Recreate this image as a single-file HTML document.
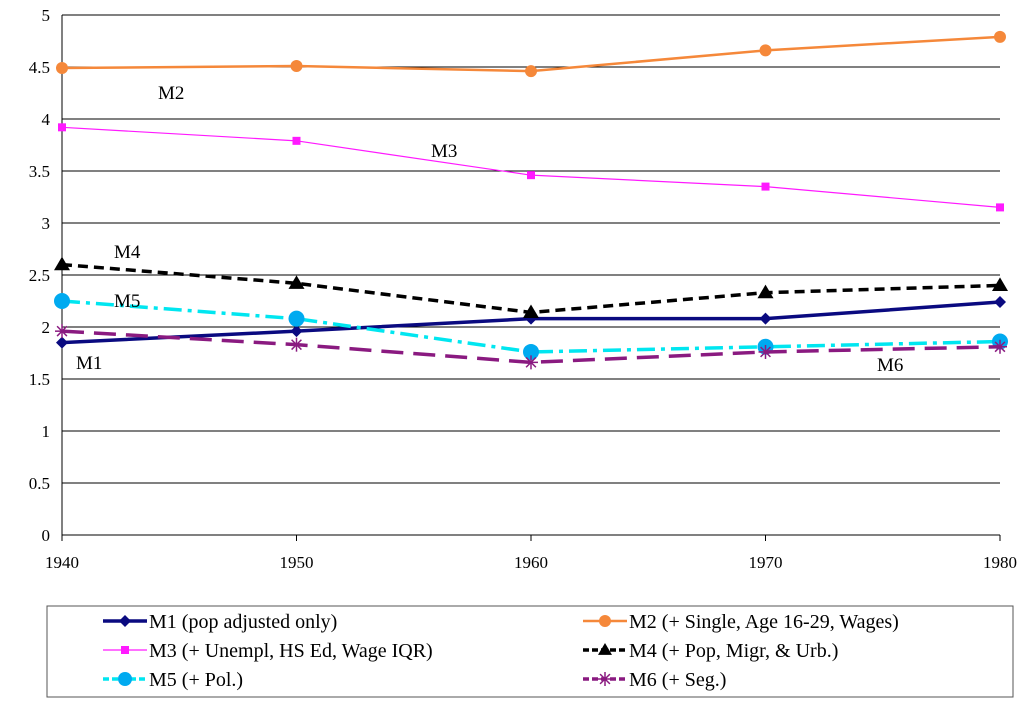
<!DOCTYPE html>
<html><head><meta charset="utf-8"><style>
body{margin:0;background:#fff;width:1024px;height:704px;overflow:hidden}
svg text{font-family:"Liberation Serif",serif}
</style></head><body>
<svg id="c" width="1024" height="704"></svg>
<script>
const years=[1940,1950,1960,1970,1980];
const m1=[1.85,1.96,2.08,2.08,2.24];
const m2=[4.49,4.51,4.46,4.66,4.79];
const m3=[3.92,3.79,3.46,3.35,3.15];
const m4=[2.60,2.42,2.14,2.33,2.40];
const m5=[2.25,2.08,1.76,1.81,1.86];
const m6=[1.96,1.83,1.66,1.76,1.81];
const yTicks=[0,0.5,1,1.5,2,2.5,3,3.5,4,4.5,5];
const names=["M1 (pop adjusted only)","M2 (+ Single, Age 16-29, Wages)","M3 (+ Unempl, HS Ed, Wage IQR)","M4 (+ Pop, Migr, & Urb.)","M5 (+ Pol.)","M6 (+ Seg.)"];
const NS="http://www.w3.org/2000/svg";
const svg=document.getElementById('c');
const X=v=>62+(v-1940)/40*938;
const Y=v=>535-v*104;
function mk(t,a,p){const e=document.createElementNS(NS,t);for(const k in a)e.setAttribute(k,a[k]);(p||svg).appendChild(e);return e;}
yTicks.forEach(t=>{
 const g=mk('line',{x1:62,x2:1000,y1:Y(t),y2:Y(t),stroke:'#000','stroke-width':1});
 
 
 const l=mk('text',{x:50,y:Y(t)+6,'text-anchor':'end','font-size':17});l.textContent=t;
 
 
});
mk('line',{x1:62,x2:62,y1:15,y2:535,stroke:'#000'});
years.forEach(y=>{
 mk('line',{x1:X(y),x2:X(y),y1:535,y2:541,stroke:'#000'});
 const l=mk('text',{x:X(y),y:568,'text-anchor':'middle','font-size':17});l.textContent=y;
 
 
});
const series=[
 {d:m1,c:'#0a0a80',w:3.5,dash:'',m:'diamond',s:6},
 {d:m2,c:'#f5883a',w:2.5,dash:'',m:'circle',s:6},
 {d:m3,c:'#ff1aff',w:1.2,dash:'',m:'square',s:4},
 {d:m4,c:'#000',w:3.5,dash:'10,6',m:'tri',s:8},
 {d:m5,c:'#00e6f0',w:3.5,dash:'18,6,4,6',m:'circle',s:8,mc:'#00aaf0'},
 {d:m6,c:'#8a1a80',w:3.5,dash:'22,10',m:'star',s:7}
];
function marker(p,m,x,y,s,c){
 if(m==='diamond')return mk('polygon',{points:`${x},${y-s} ${x+s},${y} ${x},${y+s} ${x-s},${y}`,fill:c},p);
 if(m==='circle')return mk('circle',{cx:x,cy:y,r:s,fill:c},p);
 if(m==='square')return mk('rect',{x:x-s,y:y-s,width:2*s,height:2*s,fill:c},p);
 if(m==='tri')return mk('polygon',{points:`${x},${y-s} ${x+s},${y+s*0.7} ${x-s},${y+s*0.7}`,fill:c},p);
 const g=mk('g',{stroke:c,'stroke-width':1.5},p);
 mk('line',{x1:x-s,y1:y,x2:x+s,y2:y},g);mk('line',{x1:x,y1:y-s,x2:x,y2:y+s},g);
 mk('line',{x1:x-s*.7,y1:y-s*.7,x2:x+s*.7,y2:y+s*.7},g);mk('line',{x1:x-s*.7,y1:y+s*.7,x2:x+s*.7,y2:y-s*.7},g);
 return g;
}
series.forEach((s,i)=>{
 const g=mk('g',{});
 
 
 mk('polyline',{points:s.d.map((v,j)=>X(years[j])+','+Y(v)).join(' '),fill:'none',stroke:s.c,'stroke-width':s.w,'stroke-dasharray':s.dash},g);
 s.d.forEach((v,j)=>{const mm=marker(g,s.m,X(years[j]),Y(v),s.s,s.mc||s.c);
  
  });
});
[['M2',158,99],['M3',431,157],['M4',114,258],['M5',114,307],['M1',76,369],['M6',877,371]].forEach(a=>{
 const t=mk('text',{x:a[1],y:a[2],'font-size':19});t.textContent=a[0];
 
 
});
const lg=mk('g',{});


mk('rect',{x:47,y:606,width:966,height:91,fill:'#fff',stroke:'#555','stroke-width':1},lg);
series.forEach((s,i)=>{
 const col=i%2,row=Math.floor(i/2);
 const x0=col?583:103,y0=621+row*29;
 const e=mk('g',{},lg);
 
 
 mk('line',{x1:x0,x2:x0+44,y1:y0,y2:y0,stroke:s.c,'stroke-width':s.w,'stroke-dasharray':s.dash?'6,3':''},e);
 marker(e,s.m,x0+22,y0,Math.min(s.s,7),s.mc||s.c);
 const t=mk('text',{x:x0+46,y:y0+7,'font-size':20},e);t.textContent=names[i];
});
</script>
</body></html>
